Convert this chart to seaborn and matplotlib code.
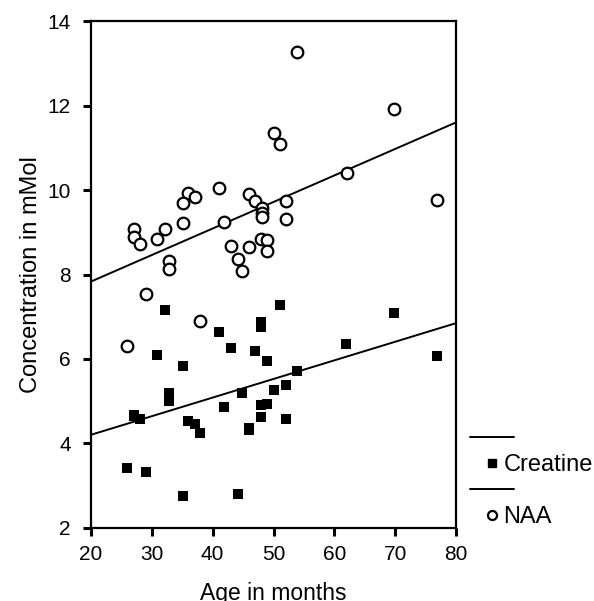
import numpy as np
import pandas as pd
import seaborn as sns
import matplotlib.pyplot as plt
from matplotlib.lines import Line2D
from matplotlib.legend_handler import HandlerLine2D

sns.set_style('white')
plt.rcParams['font.family'] = ['Liberation Sans', 'DejaVu Sans']
plt.rcParams['text.color'] = 'black'
plt.rcParams['axes.labelcolor'] = 'black'
plt.rcParams['xtick.color'] = 'black'
plt.rcParams['ytick.color'] = 'black'

# ----------------------------------------------------------------------
# data
# ----------------------------------------------------------------------

naa_age = [53.9, 69.8, 50.0, 51.1, 62.0, 76.8, 41.0, 35.9, 37.1, 35.1, 46.0, 47.0,
           52.0, 48.1, 48.1, 48.1, 52.0, 41.9, 35.1, 27.1, 27.1, 32.1, 30.9, 28.1,
           43.0, 46.0, 47.9, 48.9, 48.9, 44.1, 44.9, 32.9, 32.9, 29.0, 37.9, 25.9]
naa_conc = [13.27, 11.91, 11.34, 11.09, 10.41, 9.76, 10.05, 9.94, 9.84, 9.70, 9.91, 9.73,
            9.73, 9.57, 9.45, 9.35, 9.32, 9.25, 9.21, 9.08, 8.88, 9.08, 8.85, 8.72,
            8.68, 8.64, 8.85, 8.82, 8.56, 8.36, 8.08, 8.33, 8.12, 7.55, 6.91, 6.31]

cr_age = [32.1, 51.0, 69.8, 41.0, 47.9, 47.9, 43.0, 47.0, 48.9, 61.9, 76.8, 30.9,
          35.1, 53.9, 50.0, 52.0, 44.9, 32.9, 32.9, 41.8, 47.9, 48.9, 27.1, 27.1,
          28.1, 47.9, 52.0, 35.9, 37.1, 37.9, 46.0, 46.0, 25.9, 29.0, 35.1, 44.1]
cr_conc = [7.16, 7.28, 7.08, 6.63, 6.87, 6.75, 6.27, 6.19, 5.95, 6.36, 6.06, 6.10,
           5.83, 5.71, 5.27, 5.38, 5.19, 5.19, 5.01, 4.86, 4.90, 4.93, 4.65, 4.68,
           4.57, 4.62, 4.58, 4.54, 4.45, 4.26, 4.32, 4.36, 3.41, 3.33, 2.76, 2.81]

naa = pd.DataFrame({'Age': naa_age, 'Conc': naa_conc})
cr = pd.DataFrame({'Age': cr_age, 'Conc': cr_conc})


# legend handler that puts the marker left of the handle centre
class MarkerLeft(HandlerLine2D):
    def get_xdata(self, legend, xdescent, ydescent, width, height, fontsize):
        return [-xdescent, -xdescent + width], [-xdescent + 0.34 * width]


# ----------------------------------------------------------------------
# plot
# ----------------------------------------------------------------------

fig = plt.figure(figsize=(5.94, 6.01), dpi=100)
ax = fig.add_axes([0.153, 0.1215, 0.615, 0.8435])
ax.set_xlim(20, 80)
ax.set_ylim(2, 14)

sns.regplot(data=naa, x='Age', y='Conc', ci=None, truncate=False, ax=ax,
            marker='o',
            scatter_kws=dict(s=70, facecolors='white', edgecolors='black',
                             linewidths=1.6, alpha=1, zorder=3),
            line_kws=dict(color='black', lw=1.4))
sns.regplot(data=cr, x='Age', y='Conc', ci=None, truncate=False, ax=ax,
            marker='s',
            scatter_kws=dict(s=45, color='black', linewidths=0, alpha=1, zorder=3),
            line_kws=dict(color='black', lw=1.4))

ax.set_xlim(20, 80)
ax.set_ylim(2, 14)
ax.set_xticks(range(20, 81, 10))
ax.set_yticks(range(2, 15, 2))
ax.tick_params(direction='out', length=5.5, width=2.2, color='black',
               labelcolor='black', labelsize=15, bottom=True, left=True)
ax.tick_params(axis='y', pad=9)
ax.tick_params(axis='x', pad=7)
for sp in ax.spines.values():
    sp.set_color('black')
    sp.set_linewidth(1.6)

ax.set_xlabel('Age in months', fontsize=16.5, labelpad=13)
ax.set_ylabel('Concentration in mMol', fontsize=17, labelpad=4)

# legend: a line above each marker entry
sq = Line2D([], [], marker='s', color='black', ls='none', markersize=6)
ci = Line2D([], [], marker='o', color='black', mfc='white', ls='none',
            markersize=6.5, mew=1.6)
handles = [Line2D([], [], color='black', lw=1.4), sq,
           Line2D([], [], color='black', lw=1.4), ci]
labels = ['', 'Creatine', '', 'NAA']
ax.legend(handles, labels, loc='lower left', bbox_to_anchor=(1.038, 0.0),
          frameon=False, fontsize=17, handlelength=1.86, handletextpad=-0.45,
          labelspacing=0.17, borderpad=0, borderaxespad=0,
          handler_map={sq: MarkerLeft(), ci: MarkerLeft()})

fig.savefig('out.png', dpi=100)
